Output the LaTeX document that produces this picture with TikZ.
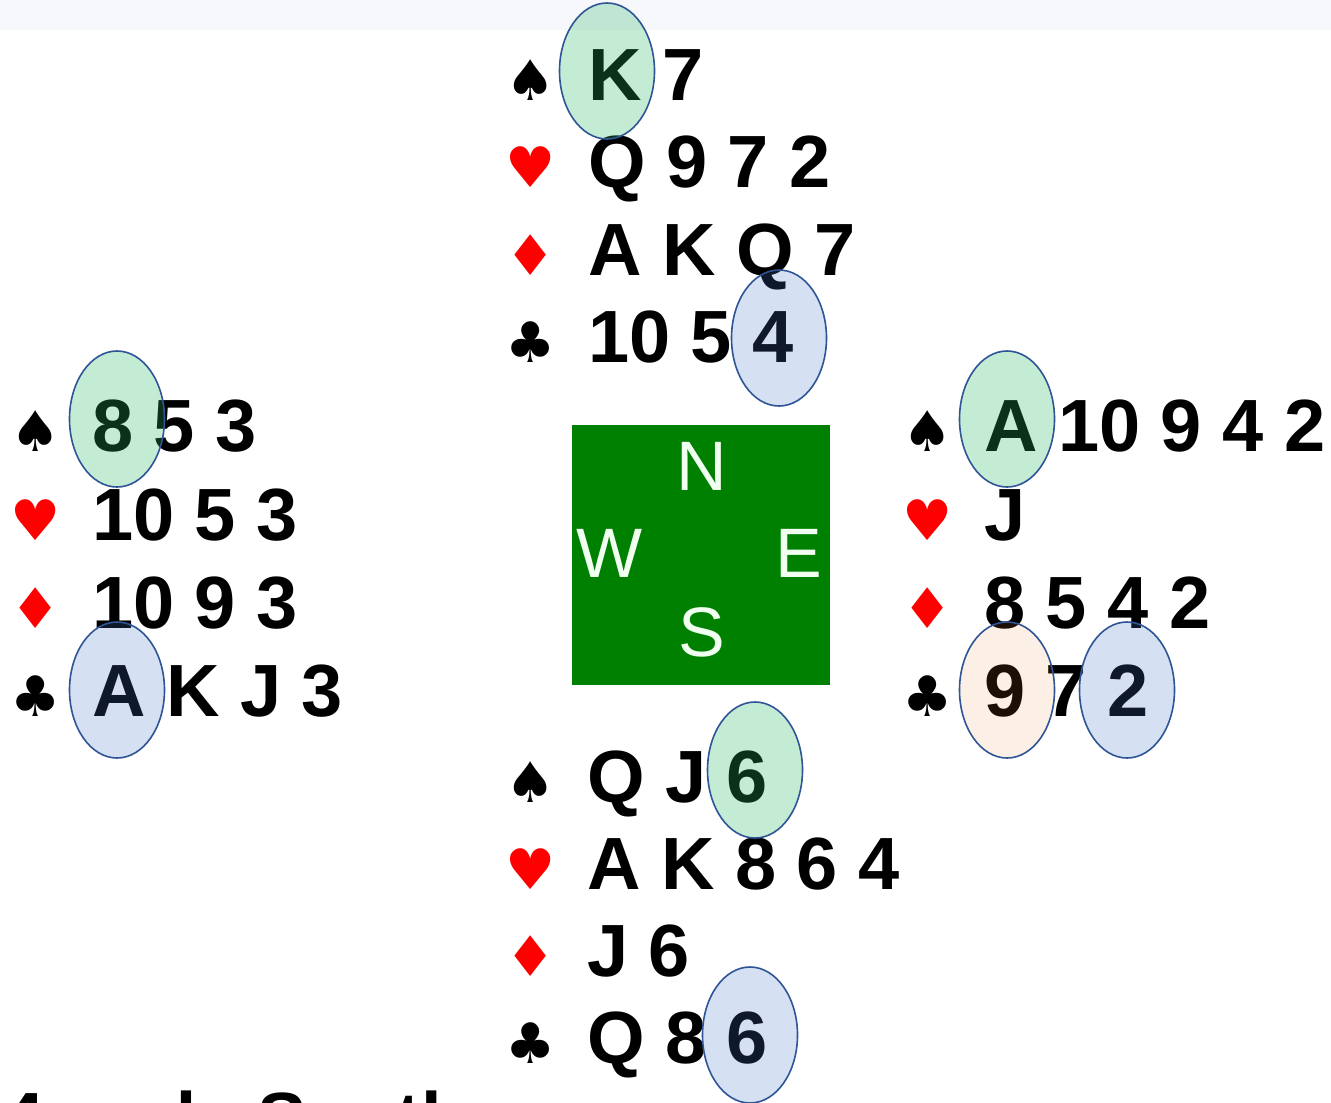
\documentclass[tikz,border=0pt]{standalone}
\usepackage{fontspec}
\setmainfont{Liberation Sans}
\newfontfamily\suitfont{DejaVu Sans}
\usetikzlibrary{shapes.geometric}
\definecolor{band}{RGB}{247,248,252}
\definecolor{felt}{RGB}{0,128,0}
\definecolor{cardred}{RGB}{255,0,0}
\definecolor{ringblue}{RGB}{47,85,151}
\definecolor{hlgreen}{RGB}{40,185,100}
\definecolor{hlblue}{RGB}{68,114,196}
\definecolor{hlorange}{RGB}{237,125,49}
\definecolor{compass}{RGB}{240,255,240}
\tikzset{
  rank/.style={anchor=base west, inner sep=0pt, font=\fontsize{74}{80}\selectfont\bfseries},
  suit/.style={anchor=base, inner sep=0pt, font=\suitfont\fontsize{56}{60}\selectfont},
  redsuit/.style={suit, text=cardred},
  hl/.style={ellipse, draw=ringblue, line width=1.6pt, minimum width=95pt, minimum height=136pt, inner sep=0pt},
  hlg/.style={hl, fill=hlgreen, fill opacity=0.27},
  hlb/.style={hl, fill=hlblue, fill opacity=0.22},
  hlo/.style={hl, fill=hlorange, fill opacity=0.12},
  dirletter/.style={anchor=base, inner sep=0pt, text=compass, font=\fontsize{70}{72}\selectfont},
  tablebox/.style={fill=felt, minimum width=258pt, minimum height=260pt, inner sep=0pt}
}
\begin{document}
\begin{tikzpicture}[x=1pt,y=-1pt]
\clip (0,0) rectangle (1331,1103);
\fill[white] (0,0) rectangle (1331,1103);
\fill[band] (0,0) rectangle (1331,30);

% North
\node[suit] (Nsp) at (531,100) {♠};
\node[rank] (Nspr) at (588,100) {K 7};
\node[redsuit] (Nhe) at (531,187.5) {♥};
\node[rank] (Nher) at (588,187.5) {Q 9 7 2};
\node[redsuit] (Ndi) at (531,275) {♦};
\node[rank] (Ndir) at (588,275) {A K Q 7};
\node[suit] (Ncl) at (531,362.5) {♣};
\node[rank] (Nclr) at (588,362.5) {10 5 4};

% West
\node[suit] (Wsp) at (36,451) {♠};
\node[rank] (Wspr) at (92,451) {8 5 3};
\node[redsuit] (Whe) at (36,540) {♥};
\node[rank] (Wher) at (92,540) {10 5 3};
\node[redsuit] (Wdi) at (36,628) {♦};
\node[rank] (Wdir) at (92,628) {10 9 3};
\node[suit] (Wcl) at (36,716) {♣};
\node[rank] (Wclr) at (92,716) {A K J 3};

% East
\node[suit] (Esp) at (928,451) {♠};
\node[rank] (Espr) at (984,451) {A 10 9 4 2};
\node[redsuit] (Ehe) at (928,540) {♥};
\node[rank] (Eher) at (984,540) {J};
\node[redsuit] (Edi) at (928,628) {♦};
\node[rank] (Edir) at (984,628) {8 5 4 2};
\node[suit] (Ecl) at (928,716) {♣};
\node[rank] (Eclr) at (984,716) {9 7 2};

% South
\node[suit] (Ssp) at (531,802) {♠};
\node[rank] (Sspr) at (587,802) {Q J 6};
\node[redsuit] (She) at (531,889) {♥};
\node[rank] (Sher) at (587,889) {A K 8 6 4};
\node[redsuit] (Sdi) at (531,976) {♦};
\node[rank] (Sdir) at (587,976) {J 6};
\node[suit] (Scl) at (531,1063) {♣};
\node[rank] (Sclr) at (587,1063) {Q 8 6};

% Table
\node[tablebox] (table) at (701,555) {};
\node[dirletter] (dN) at (702,490) {N};
\node[dirletter] (dW) at (610,577) {W};
\node[dirletter] (dE) at (799,577) {E};
\node[dirletter] (dS) at (702,656) {S};

% caption (cut off by the lower edge, as in the reference)
\node[rank] (caption) at (3,1144) {4 and\hspace{40pt} South};

% highlights
\node[hlg] (hNK) at (607,71) {};
\node[hlb] (hN4) at (779,338) {};
\node[hlg] (hW8) at (117,419) {};
\node[hlb] (hWA) at (117,690) {};
\node[hlg] (hEA) at (1007,419) {};
\node[hlo] (hE9) at (1007,690) {};
\node[hlb] (hE2) at (1127,690) {};
\node[hlg] (hS6) at (755,770) {};
\node[hlb] (hS6c) at (750,1035) {};
\end{tikzpicture}
\end{document}
